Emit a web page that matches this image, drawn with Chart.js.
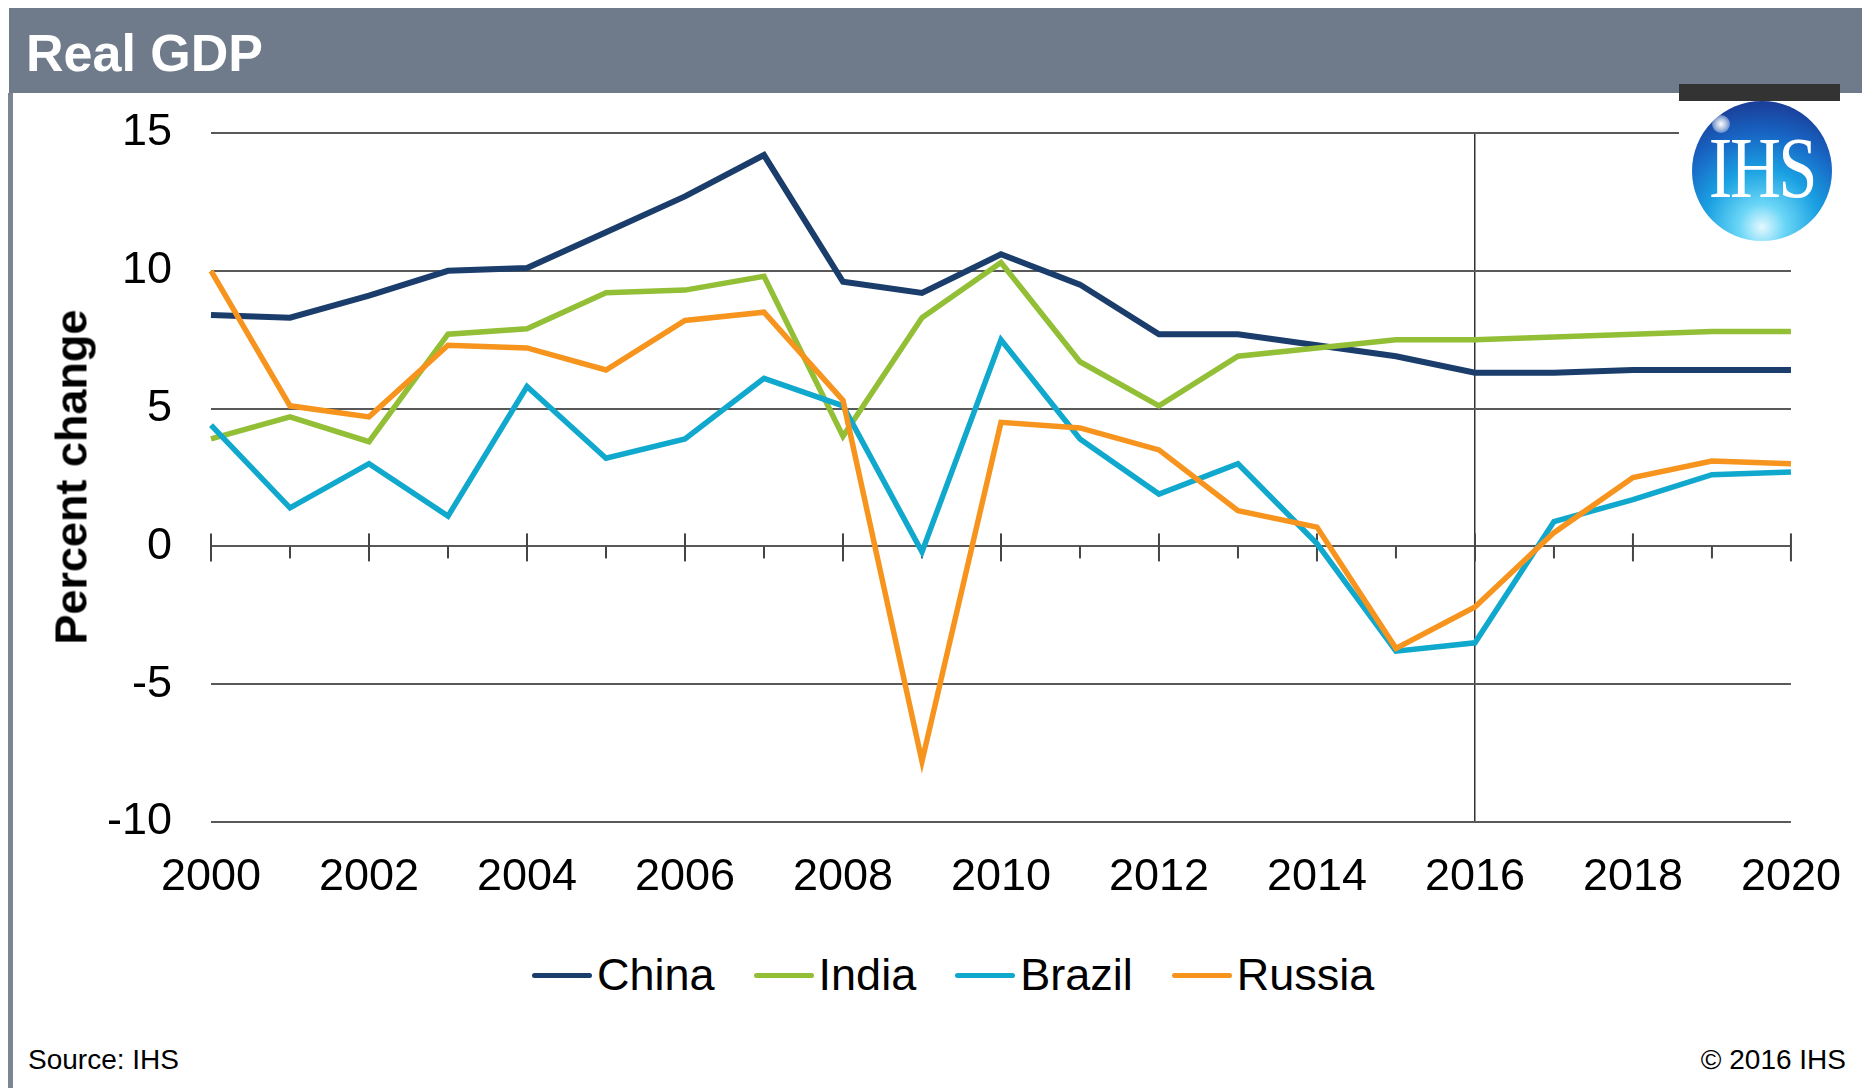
<!DOCTYPE html>
<html>
<head>
<meta charset="utf-8">
<title>Real GDP</title>
<script src="https://cdn.jsdelivr.net/npm/chart.js@4.4.0/dist/chart.umd.min.js"></script>
<style>
  body { margin: 0; width: 1862px; height: 1088px; position: relative; background: #fff; overflow: hidden;
         font-family: "Liberation Sans", Arial, sans-serif; color: #000; }
  .abs { position: absolute; }
  #header { left: 9px; top: 8px; width: 1853px; height: 85px; background: #6f7b8a; }
  #title { left: 26px; top: 27px; font-size: 52px; line-height: 52px; font-weight: bold; color: #fff; }
  #leftBorder { left: 8px; top: 93px; width: 5px; height: 995px; background: #7b8593; }
  /* tick padding pushes the plot in by ~66px at the top and ~79px at the right */
  #chartBox { left: 0; top: 67px; width: 1870px; height: 839px; }
  #yTitle { left: 71px; top: 477px; font-size: 45px; line-height: 45px; font-weight: bold; white-space: nowrap;
            transform: translate(-50%, -50%) rotate(-90deg); }
  #logoMask { left: 1679px; top: 100px; width: 183px; height: 150px; background: #fff; }
  #logoBar { left: 1679px; top: 84px; width: 161px; height: 17px; background: #333; }
  #logo { left: 1692px; top: 101px; width: 140px; height: 140px; border-radius: 50%;
          background: radial-gradient(circle at 50% 90%, #e4f8ff 0%, #6ad6f6 16%, #1aa0e2 40%, #1865c4 65%, #1a3c96 88%, #17307e 100%);
          overflow: hidden; }
  #logo .shine { position: absolute; left: 20px; top: 14px; width: 18px; height: 18px; border-radius: 50%;
                 background: radial-gradient(circle, #ffffff 0%, rgba(255,255,255,0.6) 45%, rgba(255,255,255,0) 100%); }
  #logo .txt { position: absolute; left: 0; width: 140px; top: 24px; text-align: center; color: #fff;
               font-family: "Liberation Serif", "DejaVu Serif", serif; font-size: 86px; line-height: 86px;
               transform: scaleX(0.82); letter-spacing: -3px; }
  #legend { left: 532px; top: 952px; display: flex; align-items: center; font-size: 45px; line-height: 45px; }
  #legend .item { display: flex; align-items: center; margin-right: 39px; }
  #legend .swatch { width: 60px; height: 5px; border-radius: 3px; margin-right: 5px; margin-top: 2px; }
  .foot { top: 1046px; font-size: 28px; line-height: 28px; }
</style>
</head>
<body>
<div id="header" class="abs"></div>
<div id="title" class="abs">Real GDP</div>
<div id="leftBorder" class="abs"></div>
<div id="chartBox" class="abs"><canvas id="gdpChart" width="1870" height="839"></canvas></div>
<div id="yTitle" class="abs">Percent change</div>
<div id="logoMask" class="abs"></div>
<div id="logo" class="abs"><div class="shine"></div><div class="txt">IHS</div></div>
<div id="logoBar" class="abs"></div>
<div id="legend" class="abs"></div>
<div class="abs foot" style="left:28px;">Source: IHS</div>
<div class="abs foot" style="right:16px;">© 2016 IHS</div>

<script>
// years on the x axis
const years = ['2000','2001','2002','2003','2004','2005','2006','2007','2008','2009','2010',
               '2011','2012','2013','2014','2015','2016','2017','2018','2019','2020'];

// real GDP, percent change
const china  = [8.4, 8.3, 9.1, 10.0, 10.1, 11.4, 12.7, 14.2, 9.6, 9.2, 10.6, 9.5, 7.7, 7.7, 7.3, 6.9, 6.3, 6.3, 6.4, 6.4, 6.4];
const india  = [3.9, 4.7, 3.8, 7.7, 7.9, 9.2, 9.3, 9.8, 4.0, 8.3, 10.3, 6.7, 5.1, 6.9, 7.2, 7.5, 7.5, 7.6, 7.7, 7.8, 7.8];
const brazil = [4.4, 1.4, 3.0, 1.1, 5.8, 3.2, 3.9, 6.1, 5.1, -0.2, 7.5, 3.9, 1.9, 3.0, 0.1, -3.8, -3.5, 0.9, 1.7, 2.6, 2.7];
const russia = [10.0, 5.1, 4.7, 7.3, 7.2, 6.4, 8.2, 8.5, 5.3, -7.8, 4.5, 4.3, 3.5, 1.3, 0.7, -3.7, -2.2, 0.5, 2.5, 3.1, 3.0];

const seriesNames  = ['China', 'India', 'Brazil', 'Russia'];
const seriesColors = ['#1a3d6b', '#92bf36', '#10a8cd', '#f7941e'];
const seriesValues = [china, india, brazil, russia];

const yTicks = { min: -10, max: 15, step: 5 };
const forecastYear = '2016';

// tick marks sitting on the zero line (long on even years, short on odd years)
const zeroAxisTicks = {
    id: 'zeroAxisTicks',
    beforeDatasetsDraw(chart) {
        const { ctx, scales: { x, y } } = chart;
        const y0 = y.getPixelForValue(0);
        ctx.save();
        ctx.strokeStyle = '#444';
        ctx.lineWidth = 2;
        years.forEach((yr, i) => {
            const px = x.getPixelForValue(i);
            ctx.beginPath();
            if (i % 2 === 0) { ctx.moveTo(px, y0 - 13); ctx.lineTo(px, y0 + 15); }
            else { ctx.moveTo(px, y0); ctx.lineTo(px, y0 + 12); }
            ctx.stroke();
        });
        ctx.restore();
    }
};

const datasets = seriesNames.map((name, i) => ({
    label: name,
    data: seriesValues[i],
    borderColor: seriesColors[i],
    backgroundColor: seriesColors[i],
    borderWidth: i === 0 ? 6 : 5.5,
    pointRadius: 0,
    tension: 0,
    fill: false
}));

new Chart(document.getElementById('gdpChart'), {
    type: 'line',
    data: { labels: years, datasets: datasets.slice().reverse() },
    options: {
        responsive: false,
        devicePixelRatio: 1,
        animation: false,
        layout: { padding: 0 },
        plugins: { legend: { display: false }, tooltip: { enabled: false } },
        scales: {
            x: {
                type: 'category',
                offset: false,
                border: { display: false },
                grid: {
                    drawTicks: false,
                    lineWidth: 1.5,
                    color: c => (years[c.index] === forecastYear ? '#333' : 'rgba(0,0,0,0)')
                },
                ticks: {
                    autoSkip: false, maxRotation: 0, padding: 29, color: '#000',
                    font: { family: '"Liberation Sans", Arial, sans-serif', size: 45 },
                    callback: (v, i) => (i % 2 === 0 ? years[i] : '')
                },
                afterFit: s => { s.height = 84; }
            },
            y: {
                min: yTicks.min, max: yTicks.max,
                border: { display: false },
                grid: { drawTicks: false, color: '#595959', lineWidth: 2 },
                ticks: {
                    stepSize: yTicks.step, padding: 39, color: '#000',
                    font: { family: '"Liberation Sans", Arial, sans-serif', size: 45 }
                },
                afterFit: s => { s.width = 211; }
            }
        }
    },
    plugins: [zeroAxisTicks]
});

// legend built from the same series lists
const legendEl = document.getElementById('legend');
seriesNames.forEach((name, i) => {
    const item = document.createElement('div');
    item.className = 'item';
    item.innerHTML = `<span class="swatch" style="background:${seriesColors[i]}"></span><span>${name}</span>`;
    legendEl.appendChild(item);
});
</script>
</body>
</html>
